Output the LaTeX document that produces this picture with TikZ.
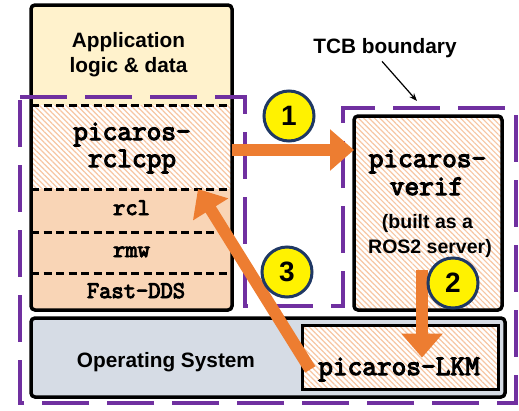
\documentclass[tikz,border=0pt]{standalone}
\usepackage{fontspec}
\setmainfont{Liberation Sans}
\newfontfamily\codefont[FakeBold=4]{Latin Modern Mono}
\usetikzlibrary{arrows.meta,patterns.meta}
\definecolor{appfill}{HTML}{FFF2CC}
\definecolor{peach}{HTML}{F9D5B6}
\definecolor{stripe}{HTML}{F7C6A3}
\definecolor{osfill}{HTML}{D6DCE5}
\definecolor{tcb}{HTML}{7030A0}
\definecolor{flow}{HTML}{ED7D31}
\definecolor{navy}{HTML}{1F3864}

\begin{document}
\begin{tikzpicture}[x=1pt,y=-1pt,
  every node/.style={inner sep=0pt, outer sep=0pt},
  layer/.style={rectangle, minimum width=201pt},
  hatched/.style={pattern={Lines[angle=135,distance=3.8pt,line width=1.2pt]}, pattern color=stripe},
  sanslabel/.style={font=\bfseries\fontsize{20.8}{25}\selectfont, anchor=base},
  notelabel/.style={font=\bfseries\fontsize{19.5}{24}\selectfont, anchor=base},
  codebig/.style={font=\codefont\fontsize{28.5}{28.5}\selectfont, anchor=base},
  codesmall/.style={font=\codefont\fontsize{23.8}{24}\selectfont, anchor=base},
  divider/.style={line width=3pt, dash pattern=on 8pt off 4.5pt},
  frame/.style={line width=3.5pt, rounded corners=4pt},
  flowarrow/.style={draw=flow, line width=12pt, -{Triangle[length=24pt,width=40pt]}},
  badge/.style={circle, minimum size=50pt, fill=yellow, draw=navy, line width=3pt,
    font=\bfseries\fontsize{28}{28}\selectfont},
]
\useasboundingbox (0,0) rectangle (519,410);

% ---- ROS 2 application stack ----
\begin{scope}
  \clip[rounded corners=4pt] (31,5) rectangle (232,310);
  \node[layer, minimum height=100pt, fill=appfill] (appbox) at (131.5,55) {};
  \node[layer, minimum height=84pt, fill=white] (rclcppbox) at (131.5,147) {};
  \fill[hatched] (rclcppbox.north west) rectangle (rclcppbox.south east);
  \node[layer, minimum height=43pt, fill=peach] (rclbox) at (131.5,210.5) {};
  \node[layer, minimum height=41pt, fill=peach] (rmwbox) at (131.5,252.5) {};
  \node[layer, minimum height=37pt, fill=peach] (ddsbox) at (131.5,291.5) {};
\end{scope}
\draw[divider] (appbox.south west) -- (appbox.south east);
\draw[divider] (rclcppbox.south west) -- (rclcppbox.south east);
\draw[divider] (rclbox.south west) -- (rclbox.south east);
\draw[divider] (rmwbox.south west) -- (rmwbox.south east);
\draw[frame] (31,5) rectangle (232,310);

\node[sanslabel] (app1) at (128.5,47) {Application};
\node[sanslabel] (app2) at (128.5,72) {logic \& data};
\node[codebig] (rclcpp1) at (132,140) {picaros-};
\node[codebig] (rclcpp2) at (132,167) {rclcpp};
\node[codesmall] (rcltext) at (131.5,215) {rcl};
\node[codesmall] (rmwtext) at (131.5,257) {rmw};
\node[codesmall] (ddstext) at (136,298) {Fast-DDS};

% ---- operating system with the kernel module ----
\node[rectangle, rounded corners=4pt, fill=osfill, draw, line width=3.5pt,
  minimum width=474pt, minimum height=79pt] (osbox) at (268,357.5) {};
\node[sanslabel] (ostext) at (166,367) {Operating System};
\node[rectangle, fill=white, draw, line width=3pt,
  minimum width=196pt, minimum height=64pt] (lkmbox) at (400,357) {};
\fill[hatched] (lkmbox.north west) rectangle (lkmbox.south east);
\draw[line width=3pt] (lkmbox.north west) rectangle (lkmbox.south east);
\node[codebig] (lkmtext) at (399,375) {picaros-LKM};

% ---- verifier ----
\node[rectangle, rounded corners=4pt, fill=white, minimum width=148pt,
  minimum height=194pt] (verifbox) at (428,213) {};
\fill[hatched, rounded corners=4pt] (verifbox.north west) rectangle (verifbox.south east);
\draw[frame] (verifbox.north west) rectangle (verifbox.south east);
\node[codebig] (verif1) at (427.5,167) {picaros-};
\node[codebig] (verif2) at (426.5,195) {verif};
\node[notelabel] (note1) at (427.5,228) {(built as a};
\node[notelabel] (note2) at (430,253) {ROS2 server)};

% ---- trusted computing base ----
\draw[tcb, line width=4.5pt, dash pattern=on 47pt off 18pt, line join=miter]
  (20,97) -- (245,97) -- (245,306) -- (343,306) -- (343,108) -- (516,108)
  -- (516,403) -- (20,403) -- cycle;
\node[sanslabel] (tcblabel) at (385,53) {TCB boundary};
\coordinate (tcbtip) at (417,101);
\draw[line width=1.2pt, -{Stealth[length=8pt,width=6pt]}]
  ([xshift=-3pt,yshift=-4pt]tcblabel.south) -- (tcbtip);

% ---- call flow ----
\coordinate (a1s) at ([yshift=-3pt]rclcppbox.east);
\draw[flowarrow] (a1s) -- (a1s -| verifbox.west);
\coordinate (a2s) at ([xshift=-6pt,yshift=40pt]verifbox.south);
\draw[flowarrow] (a2s) -- (a2s |- lkmtext.north);
\coordinate (a3s) at ([xshift=-8pt]lkmtext.west);
\coordinate (a3e) at ([xshift=66.5pt]rclcppbox.south);
\draw[flowarrow] (a3s) -- (a3e);

\node[badge] (step1) at (289,116) {1};
\node[badge] (step2) at (453,283) {2};
\node[badge] (step3) at (287,272) {3};
\end{tikzpicture}
\end{document}
